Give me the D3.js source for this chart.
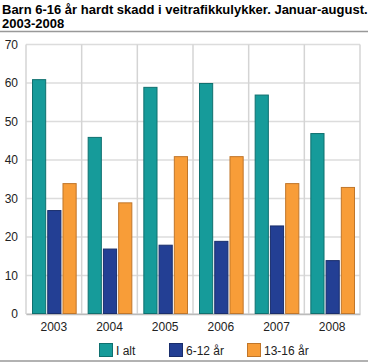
<!DOCTYPE html>
<html>
<head>
<meta charset="utf-8">
<script src="https://cdn.jsdelivr.net/npm/d3@7"></script>
<style>
  body { margin: 0; background: #fff; }
  text { font-family: "Liberation Sans", Arial, sans-serif; }
</style>
</head>
<body>
<div id="chart"></div>
<script>
var years = ["2003", "2004", "2005", "2006", "2007", "2008"];
var seriesNames = ["I alt", "6-12 år", "13-16 år"];
var iAlt = [61, 46, 59, 60, 57, 47];
var age6to12 = [27, 17, 18, 19, 23, 14];
var age13to16 = [34, 29, 41, 41, 34, 33];
var yTicks = [0, 10, 20, 30, 40, 50, 60, 70];

var colors = ["#169b9a", "#233f94", "#f89d38"];
var strokes = ["#0f706f", "#1a2e6c", "#c0762a"];

var width = 372, height = 363;
var margin = { top: 44.5, right: 12, bottom: 49, left: 26 };

var svg = d3.select("#chart")
    .append("svg")
    .attr("width", width)
    .attr("height", height);

// title
var title = svg.append("text")
    .attr("x", 2)
    .attr("font-size", 13)
    .attr("font-weight", "bold")
    .attr("fill", "#000");
title.append("tspan").attr("x", 2).attr("y", 14).text("Barn 6-16 år hardt skadd i veitrafikkulykker. Januar-august.");
title.append("tspan").attr("x", 2).attr("y", 27.5).text("2003-2008");

svg.append("line")
    .attr("x1", 0).attr("x2", 368)
    .attr("y1", 31.5).attr("y2", 31.5)
    .attr("stroke", "#999").attr("stroke-width", 1.5);
svg.append("line")
    .attr("x1", 0).attr("x2", 368)
    .attr("y1", 361).attr("y2", 361)
    .attr("stroke", "#999").attr("stroke-width", 1.5);

var plotW = width - margin.left - margin.right;
var plotH = height - margin.top - margin.bottom;

var x = d3.scaleBand()
    .domain(years)
    .range([margin.left, margin.left + plotW])
    .paddingInner(0)
    .paddingOuter(0);

var x1 = d3.scaleBand()
    .domain(seriesNames)
    .range([6, x.bandwidth() - 5])
    .paddingInner(0.07);

var y = d3.scaleLinear()
    .domain([0, 70])
    .range([margin.top + plotH, margin.top]);

// horizontal grid
svg.append("g")
    .selectAll("line")
    .data(yTicks)
    .join("line")
    .attr("x1", margin.left).attr("x2", margin.left + plotW)
    .attr("y1", d => y(d)).attr("y2", d => y(d))
    .attr("stroke", "#dcdcdc").attr("stroke-width", 1.5);

// vertical grid at category boundaries
svg.append("g")
    .selectAll("line")
    .data(years.concat(["end"]))
    .join("line")
    .attr("x1", (d, i) => margin.left + i * x.bandwidth())
    .attr("x2", (d, i) => margin.left + i * x.bandwidth())
    .attr("y1", margin.top).attr("y2", margin.top + plotH)
    .attr("stroke", "#d4d4d4").attr("stroke-width", 1.5);

// y axis labels
var yAxis = d3.axisLeft(y).tickValues(yTicks).tickSize(0).tickPadding(8);
var gy = svg.append("g")
    .attr("transform", "translate(" + margin.left + ",0)")
    .call(yAxis);
gy.select(".domain").remove();
gy.selectAll("text")
    .attr("font-size", 12)
    .attr("fill", "#222")
    .attr("font-family", "Liberation Sans, Arial, sans-serif");

// x axis labels
var xAxis = d3.axisBottom(x).tickSize(0).tickPadding(8);
var gx = svg.append("g")
    .attr("transform", "translate(0," + (margin.top + plotH) + ")")
    .call(xAxis);
gx.select(".domain").attr("stroke", "#bbb").attr("stroke-width", 1.5);
gx.selectAll("text")
    .attr("font-size", 12)
    .attr("fill", "#222")
    .attr("font-family", "Liberation Sans, Arial, sans-serif");

// bars
var series = [iAlt, age6to12, age13to16];
var rows = [];
years.forEach(function (yr, i) {
    seriesNames.forEach(function (s, j) {
        rows.push({ year: yr, name: s, value: series[j][i], k: j });
    });
});

svg.append("g")
    .selectAll("rect")
    .data(rows)
    .join("rect")
    .attr("x", d => x(d.year) + x1(d.name) + 0.5)
    .attr("y", d => y(d.value) + 0.5)
    .attr("width", x1.bandwidth() - 1)
    .attr("height", d => y(0) - y(d.value) - 1)
    .attr("fill", d => colors[d.k])
    .attr("stroke", d => strokes[d.k])
    .attr("stroke-width", 1);

// legend
var legendX = [99, 169, 247];
var leg = svg.append("g")
    .selectAll("g")
    .data(seriesNames)
    .join("g")
    .attr("transform", (d, i) => "translate(" + legendX[i] + ",343)");
leg.append("rect")
    .attr("x", 0.5).attr("y", 0.5)
    .attr("width", 13).attr("height", 13)
    .attr("fill", (d, i) => colors[i])
    .attr("stroke", (d, i) => strokes[i]);
leg.append("text")
    .attr("x", 17)
    .attr("y", 11.5)
    .attr("font-size", 12)
    .attr("fill", "#222")
    .text(d => d);
</script>
</body>
</html>
